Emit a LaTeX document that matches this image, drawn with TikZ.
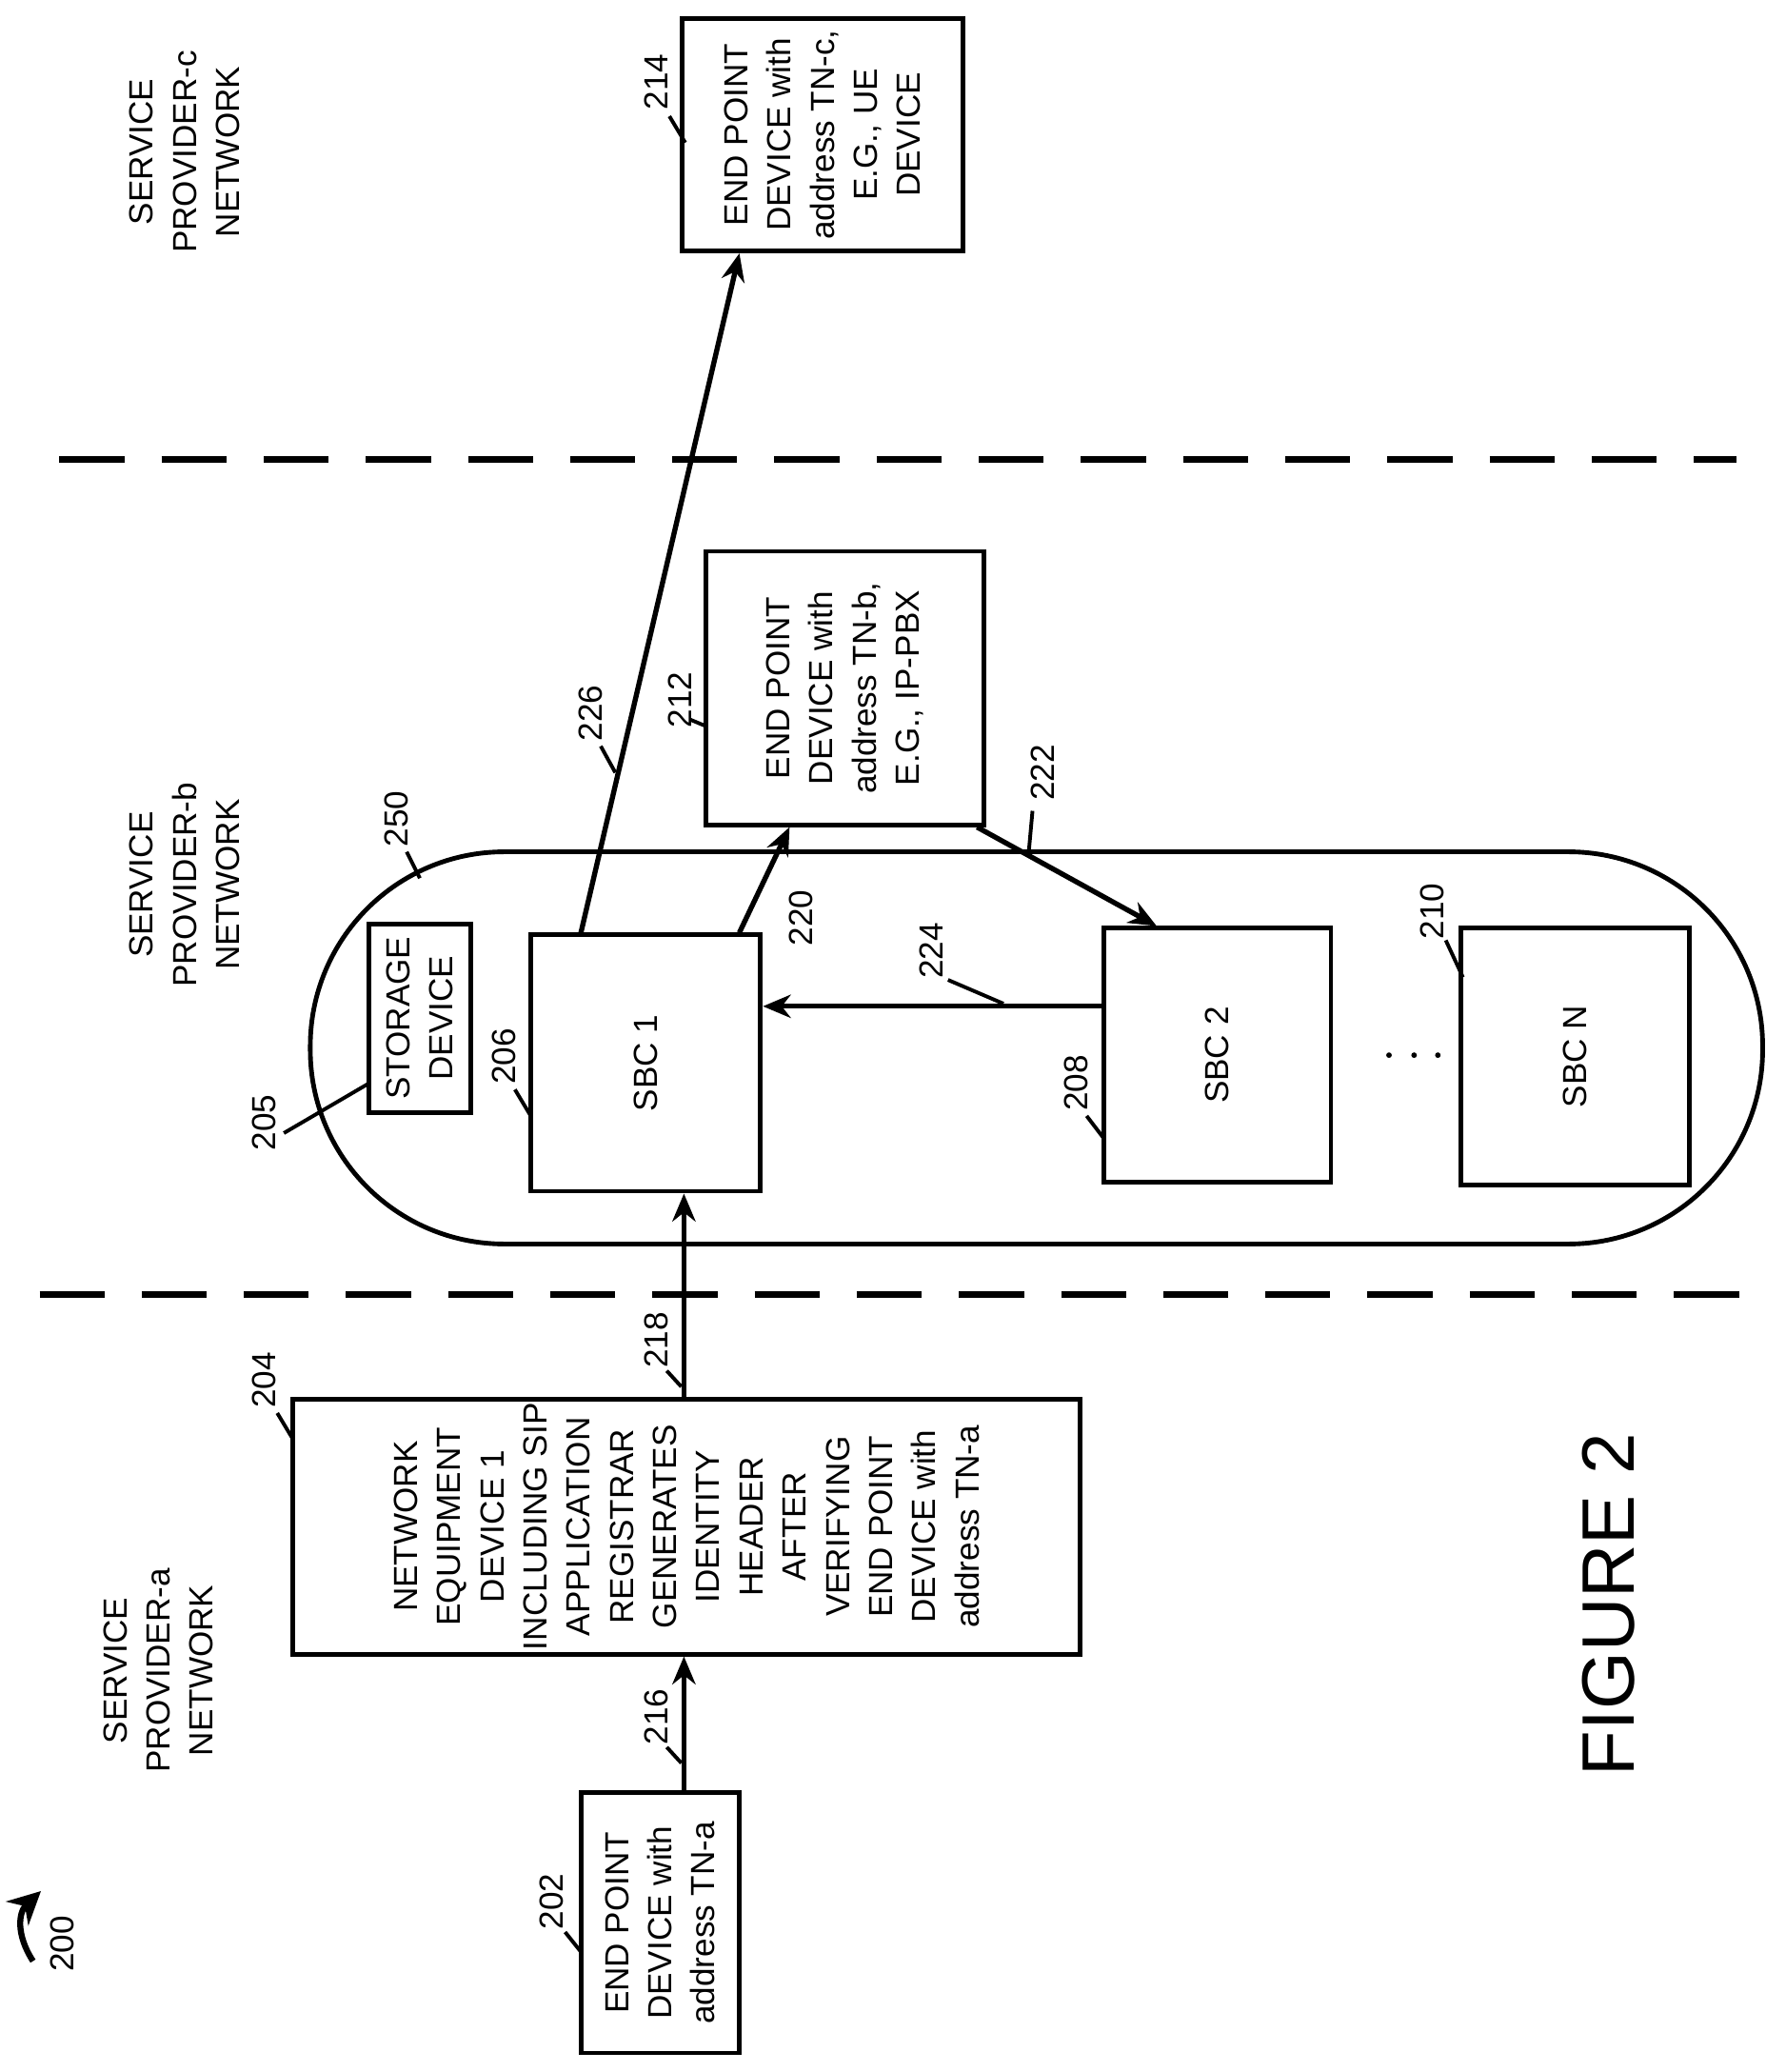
\documentclass[tikz,border=0pt]{standalone}
\usepackage{fontspec}
\setmainfont{Liberation Sans}
\usetikzlibrary{arrows.meta}
\begin{document}
\begin{tikzpicture}[x=0.01cm,y=-0.01cm,
  box/.style={draw,line width=1pt,inner sep=0pt},
  txt/.style={rotate=90,align=center,font=\fontsize{7.2}{9.3}\selectfont},
  lab/.style={rotate=90,font=\fontsize{7.2}{8.4}\selectfont,inner sep=1pt},
  arr/.style={line width=1.1pt,-{Stealth[length=6pt,width=5pt]}},
  lead/.style={line width=0.8pt},
  sepline/.style={line width=1.4pt,dash pattern=on 14pt off 8pt}]
\useasboundingbox (0,0) rectangle (1352,1569);
% dashed separators
\draw[sepline] (45,348) -- (1315,348);
\draw[sepline] (30,980) -- (1330,980);
% pill
\draw[line width=1pt,rounded corners=1.47cm] (235,645) rectangle (1335,942);
% boxes
\node[box,minimum width=2.13cm,minimum height=1.76cm] (b214) at (623,102) {};
\node[box,minimum width=2.10cm,minimum height=2.07cm] (b212) at (640,521) {};
\node[box,minimum width=0.77cm,minimum height=1.43cm] (b205) at (318,771) {};
\node[box,minimum width=1.74cm,minimum height=1.94cm] (b206) at (489,805) {};
\node[box,minimum width=1.72cm,minimum height=1.92cm] (b208) at (922,799) {};
\node[box,minimum width=1.73cm,minimum height=1.94cm] (b210) at (1193,800) {};
\node[box,minimum width=5.96cm,minimum height=1.93cm] (b204) at (520,1156) {};
\node[box,minimum width=1.20cm,minimum height=1.97cm] (b202) at (500,1456) {};
% texts
\node[txt] at (b214.center) {END POINT\\DEVICE with\\address TN-c,\\E.G., UE\\DEVICE};
\node[txt] at (b212.center) {END POINT\\DEVICE with\\address TN-b,\\E.G., IP-PBX};
\node[txt] at (b205.center) {STORAGE\\DEVICE};
\node[txt] at (b206.center) {SBC 1};
\node[txt] at (b208.center) {SBC 2};
\node[txt] at (b210.center) {SBC N};
\node[txt] at (b204.center) {NETWORK\\EQUIPMENT\\DEVICE 1\\INCLUDING SIP\\APPLICATION\\REGISTRAR\\GENERATES\\IDENTITY\\HEADER\\AFTER\\VERIFYING\\END POINT\\DEVICE with\\address TN-a};
\node[txt] at (b202.center) {END POINT\\DEVICE with\\address TN-a};
\node[txt] at (140,115) {SERVICE\\PROVIDER-c\\NETWORK};
\node[txt] at (140,670) {SERVICE\\PROVIDER-b\\NETWORK};
\node[txt] at (120,1265) {SERVICE\\PROVIDER-a\\NETWORK};
\node[rotate=90,font=\fontsize{16}{18}\selectfont] at (1218,1215) {FIGURE 2};
% dots
\foreach \x in {1052,1071,1089} \fill (\x,799) circle (0.6pt);
% arrows
\draw[arr] (b202.north -| 518,0) -- (b204.south -| 518,0);
\draw[arr] (b204.north -| 518,0) -- (b206.south -| 518,0);
\draw[arr] (b206.north -| 560,0) -- (b212.south -| 598,0);
\draw[arr] (b212.south -| 740,0) -- (b208.north -| 876,0);
\draw[arr] (b208.west |- 0,762) -- (b206.east |- 0,762);
\draw[arr] (b206.north -| 440,0) -- (b214.south -| 560,0);
% 200
\node[lab] at (47,1472) {200};
\draw[line width=1.3pt,-{Stealth[length=7pt,width=7pt]}] (25,1485) .. controls (12,1465) and (14,1448) .. (31,1432);
% reference labels with leaders
\node[lab] (l214) at (497,62) {214}; \draw[lead] (507,88) -- (519,108);
\node[lab] (l212) at (515,530) {212}; \draw[lead] (523,545) -- (535,550);
\node[lab] (l226) at (447,540) {226}; \draw[lead] (455,565) -- (466,585);
\node[lab] (l222) at (790,585) {222}; \draw[lead] (782,614) -- (779,647);
\node[lab] (l250) at (300,620) {250}; \draw[lead] (308,645) -- (318,665);
\node[lab] (l220) at (607,695) {220};
\node[lab] (l224) at (705,720) {224}; \draw[lead] (718,742) -- (760,760);
\node[lab] (l210) at (1085,690) {210}; \draw[lead] (1095,712) -- (1108,740);
\node[lab] (l205) at (200,850) {205}; \draw[lead] (215,858) -- (280,820);
\node[lab] (l206) at (382,800) {206}; \draw[lead] (390,825) -- (402,845);
\node[lab] (l208) at (815,820) {208}; \draw[lead] (823,845) -- (836,862);
\node[lab] (l204) at (200,1045) {204}; \draw[lead] (210,1070) -- (222,1090);
\node[lab] (l218) at (497,1015) {218}; \draw[lead] (505,1038) -- (516,1050);
\node[lab] (l216) at (497,1300) {216}; \draw[lead] (505,1323) -- (516,1335);
\node[lab] (l202) at (418,1440) {202}; \draw[lead] (428,1463) -- (440,1478);
\end{tikzpicture}
\end{document}
